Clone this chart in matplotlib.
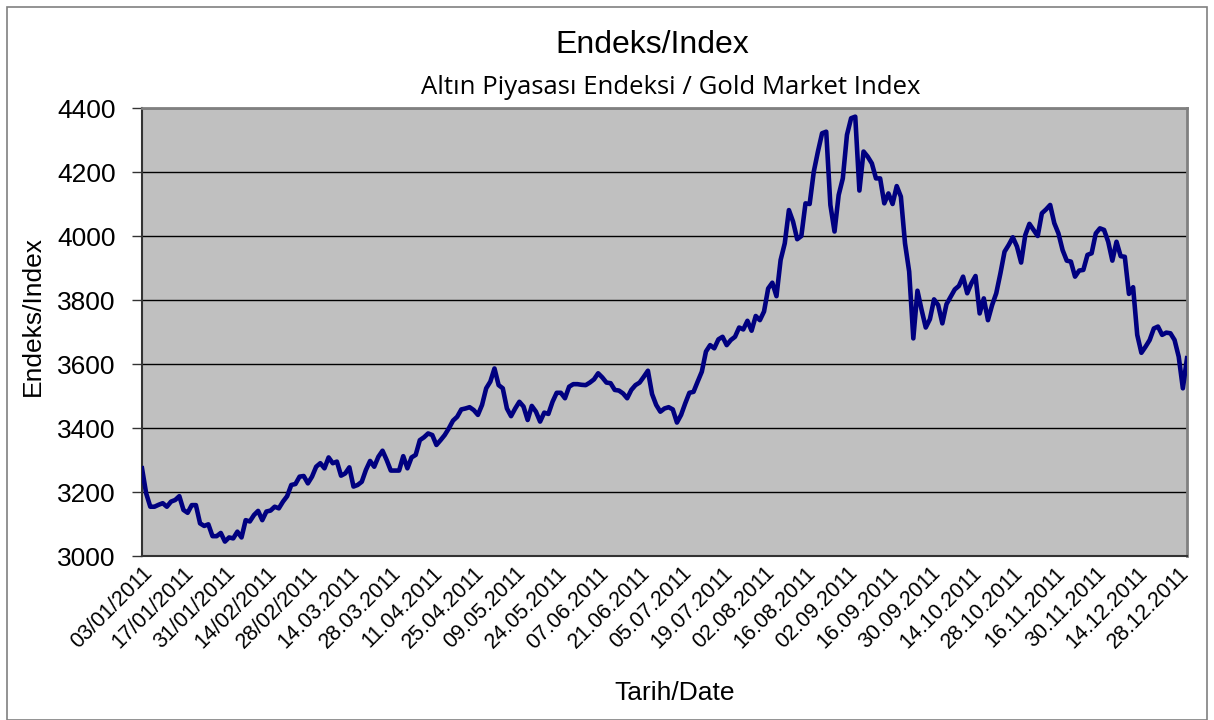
import matplotlib
matplotlib.use("Agg")
import matplotlib.pyplot as plt
import numpy as np
from matplotlib.patches import Rectangle

# date labels, one every 10 trading days
tick_labels = ['03/01/2011', '17/01/2011', '31/01/2011', '14/02/2011', '28/02/2011',
               '14.03.2011', '28.03.2011', '11.04.2011', '25.04.2011', '09.05.2011',
               '24.05.2011', '07.06.2011', '21.06.2011', '05.07.2011', '19.07.2011',
               '02.08.2011', '16.08.2011', '02.09.2011', '16.09.2011', '30.09.2011',
               '14.10.2011', '28.10.2011', '16.11.2011', '30.11.2011', '14.12.2011',
               '28.12.2011']

# daily index values
jan_mar = [3274, 3196, 3154, 3154, 3160, 3165, 3154, 3170, 3175, 3187, 3144, 3135, 3159, 3159,
           3102, 3094, 3099, 3062, 3062, 3072, 3045, 3058, 3055, 3076, 3058, 3112, 3108, 3128,
           3141, 3112, 3139, 3142, 3154, 3149, 3170, 3187, 3222, 3225, 3248, 3250, 3227, 3248,
           3279]
mar_may = [3290, 3274, 3308, 3290, 3295, 3251, 3258, 3277, 3217, 3222, 3232, 3269, 3297, 3279,
           3310, 3329, 3300, 3267, 3267, 3267, 3312, 3274, 3308, 3316, 3362, 3371, 3383, 3378,
           3347, 3362, 3378, 3399, 3423, 3435, 3458, 3461, 3465, 3456, 3441, 3472, 3524, 3545,
           3586, 3534, 3524, 3461, 3437, 3461, 3482]
may_jul = [3467, 3425, 3469, 3451, 3420, 3448, 3444, 3482, 3510, 3510, 3493, 3529, 3537, 3537,
           3535, 3534, 3542, 3552, 3571, 3558, 3542, 3540, 3519, 3517, 3508, 3493, 3519, 3534,
           3542, 3560, 3579, 3506, 3472, 3451, 3461, 3465, 3458, 3417, 3441, 3477, 3510, 3513,
           3545, 3576]
jul_sep = [3639, 3659, 3649, 3677, 3685, 3659, 3675, 3685, 3714, 3708, 3735, 3704, 3750, 3737,
           3764, 3836, 3854, 3812, 3925, 3977, 4081, 4045, 3990, 4000, 4102, 4100, 4201, 4264,
           4321, 4326, 4097, 4014, 4128, 4180, 4316, 4368, 4373, 4142, 4264, 4248, 4227, 4180,
           4180]
sep_nov = [4102, 4133, 4100, 4156, 4123, 3977, 3889, 3680, 3829, 3769, 3714, 3740, 3802, 3784,
           3727, 3787, 3810, 3833, 3844, 3873, 3821, 3852, 3875, 3758, 3805, 3737, 3784, 3821,
           3883, 3951, 3972, 3996, 3967, 3917, 4003, 4038]
nov_dec = [4019, 4000, 4071, 4083, 4097, 4040, 4008, 3956, 3923, 3920, 3873, 3892, 3894, 3941,
           3946, 4008, 4024, 4019, 3982, 3923, 3982, 3937, 3935, 3819, 3840, 3691, 3635, 3654,
           3675, 3711, 3717, 3691, 3698, 3696, 3675, 3623, 3524, 3618]

values = jan_mar + mar_may + may_jul + jul_sep + sep_nov + nov_dec
xs = np.arange(len(values))

W, H = 1214, 720
fig = plt.figure(figsize=(W / 100, H / 100), dpi=100)

# outer chart border
fig.patches.append(Rectangle((7 / W, 0), (1207 - 7) / W, (H - 7) / H, transform=fig.transFigure,
                             fill=False, edgecolor='#808080', linewidth=1.2))

ax = fig.add_axes([142 / W, 1 - 556 / H, (1187 - 142) / W, (556 - 108) / H])
ax.set_facecolor('#C0C0C0')

ax.plot(xs, values, color='#000080', linewidth=3.3, solid_joinstyle='round', zorder=3)

ax.set_xlim(0, len(values) - 1)
ax.set_ylim(3000, 4400)
ax.set_yticks(np.arange(3000, 4401, 200))
ax.yaxis.grid(True, color='black', linewidth=1.0)
ax.set_axisbelow(True)

tick_pos = np.arange(len(tick_labels)) * 10
ax.set_xticks(tick_pos)
ax.set_xticklabels(tick_labels, rotation=45, ha='right', rotation_mode='anchor',
                   fontsize=15.5, family='Liberation Sans')
ax.tick_params(axis='x', length=0, pad=5)
ax.tick_params(axis='y', length=7, width=1, color='#333333', labelsize=19, pad=12)
for lab in ax.get_yticklabels():
    lab.set_family('Liberation Sans')

for side in ['top', 'right']:
    ax.spines[side].set_color('#808080')
    ax.spines[side].set_linewidth(2)
for side in ['left', 'bottom']:
    ax.spines[side].set_color('#333333')
    ax.spines[side].set_linewidth(1.5)

fig.text(652 / W, 1 - 45 / H, 'Endeks/Index', ha='center', va='center', fontsize=23,
         family='Liberation Sans')
fig.text(671 / W, 1 - 88 / H, 'Altın Piyasası Endeksi / Gold Market Index', ha='center',
         va='center', fontsize=18.5, family='Open Sans')
fig.text(33 / W, 1 - 316 / H, 'Endeks/Index', ha='center', va='center', rotation=90,
         fontsize=19, family='Liberation Sans')
fig.text(675 / W, 1 - 693 / H, 'Tarih/Date', ha='center', va='center', fontsize=19,
         family='Liberation Sans')

fig.savefig('out.png', dpi=100, facecolor='white')
